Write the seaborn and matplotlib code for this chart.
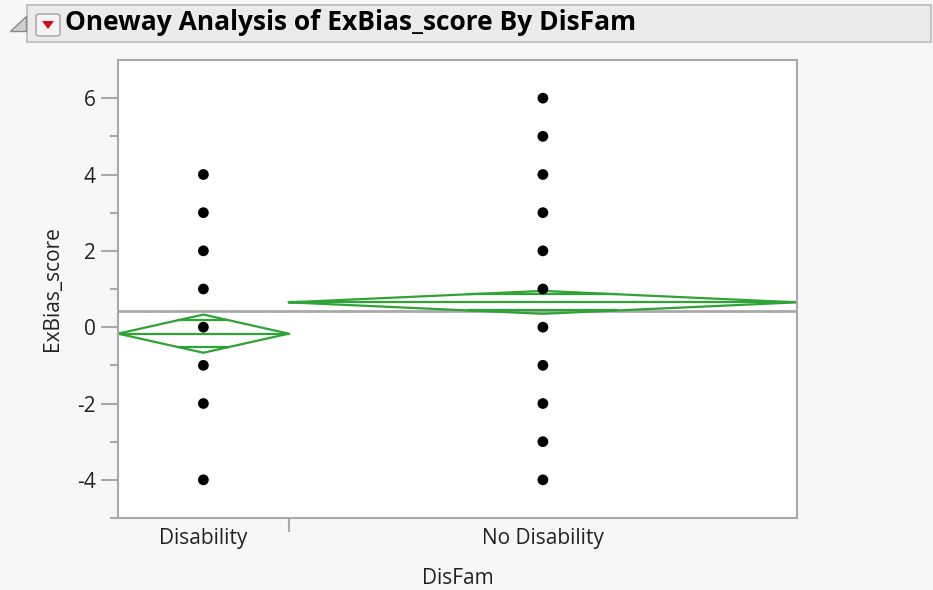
import numpy as np
import pandas as pd
import seaborn as sns
import matplotlib.pyplot as plt
from matplotlib.patches import Rectangle, Polygon, FancyBboxPatch

# Values
categories = ['Disability', 'No Disability']
dis_scores = [4, 3, 2, 1, 0, -1, -2, -4]
nodis_scores = [6, 5, 4, 3, 2, 1, 0, -1, -2, -3, -4]
group_n = [42, 125]          # x widths in JMP are proportional to group size
group_mean = [-0.17, 0.65]
group_ci = [0.50, 0.30]      # 95% CI half width (diamond height)
grand_mean = 0.43

sns.set_style('white')
plt.rcParams['font.family'] = ['Open Sans', 'DejaVu Sans']
plt.rcParams['axes.unicode_minus'] = False

green = '#2ea336'
axis_grey = '#a9a9a9'
bg = '#f7f7f7'
txt = '#222222'

# Category spans on a numeric x axis
starts = np.concatenate([[0], np.cumsum(group_n)[:-1]])
centers = starts + np.array(group_n) / 2

points = pd.DataFrame({
    'x': [centers[0]] * len(dis_scores) + [centers[1]] * len(nodis_scores),
    'ExBias_score': dis_scores + nodis_scores,
})

fig = plt.figure(figsize=(9.33, 5.9), dpi=100, facecolor=bg)
ax = fig.add_axes([118 / 933, 1 - 518 / 590, (797 - 118) / 933, (518 - 60) / 590])
ax.set_facecolor('white')

# Grand mean line
ax.axhline(grand_mean, color=axis_grey, lw=2, zorder=1)

# Means diamonds
for s, n, c, m, ci in zip(starts, group_n, centers, group_mean, group_ci):
    e = s + n
    ax.plot([s, c, e, c, s], [m, m + ci, m, m - ci, m], color=green, lw=1.6, zorder=2)
    ax.plot([s, e], [m, m], color=green, lw=1.6, zorder=2)
    off = ci / np.sqrt(2)
    hw = (n / 2) * (1 - 1 / np.sqrt(2))
    for y in (m + off, m - off):
        ax.plot([c - hw, c + hw], [y, y], color=green, lw=1.6, zorder=2)

sns.scatterplot(data=points, x='x', y='ExBias_score', color='black', s=60,
                edgecolor='none', ax=ax, zorder=3)

ax.set_xlim(0, sum(group_n))
ax.set_ylim(-5, 7)

ax.set_yticks(np.arange(-4, 7, 2))
ax.set_yticks(np.arange(-5, 7, 2), minor=True)
ax.set_xticks(centers)
ax.set_xticklabels(categories)
ax.set_xticks(starts[1:], minor=True)
ax.tick_params(axis='y', which='major', direction='out', length=12, width=1.5,
               color=axis_grey, labelsize=15, labelcolor=txt, pad=4, left=True)
ax.tick_params(axis='y', which='minor', direction='out', length=6, width=1.5,
               color=axis_grey, left=True)
ax.tick_params(axis='x', which='major', length=0, labelsize=15, labelcolor=txt, pad=7)
ax.tick_params(axis='x', which='minor', direction='out', length=10, width=1.5,
               color=axis_grey, bottom=True)
for sp in ax.spines.values():
    sp.set_color(axis_grey)
    sp.set_linewidth(1.5)

ax.set_xlabel('DisFam', fontsize=15, color=txt, labelpad=14)
ax.set_ylabel('ExBias_score', fontsize=15, color=txt, labelpad=10)

# JMP report header
fig.patches.append(Rectangle((27 / 933, 1 - 42 / 590), (931 - 27) / 933, 37 / 590,
                             transform=fig.transFigure, facecolor='#ebebeb',
                             edgecolor='#c4c4c4', lw=1.5))
fig.patches.append(Polygon([(10 / 933, 1 - 31 / 590), (26 / 933, 1 - 31 / 590),
                            (26 / 933, 1 - 16 / 590)], closed=True,
                           transform=fig.transFigure, facecolor='#d0d0d0',
                           edgecolor='#8a8a8a', lw=1))
fig.patches.append(FancyBboxPatch((36 / 933, 1 - 36 / 590), 24 / 933, 22 / 590,
                                  boxstyle='round,pad=0,rounding_size=0.004',
                                  transform=fig.transFigure, facecolor='#f4f4f4',
                                  edgecolor='#a0a0a0', lw=1))
fig.patches.append(Polygon([(42 / 933, 1 - 21 / 590), (54 / 933, 1 - 21 / 590),
                            (48 / 933, 1 - 29 / 590)], closed=True,
                           transform=fig.transFigure, facecolor='#d01010',
                           edgecolor='none'))
fig.text(65 / 933, 1 - 23 / 590, 'Oneway Analysis of ExBias_score By DisFam',
         fontsize=19, fontweight='bold', color='black', va='center', ha='left')

fig.savefig('out.png', dpi=100, facecolor=bg)
